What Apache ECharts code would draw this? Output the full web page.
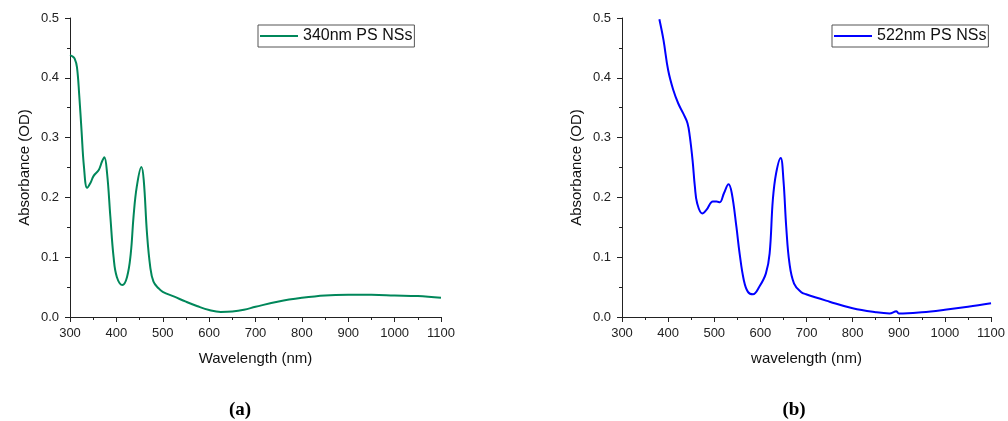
<!DOCTYPE html>
<html>
<head>
<meta charset="utf-8">
<script src="https://cdn.jsdelivr.net/npm/echarts@6/dist/echarts.min.js"></script>
<style>html,body{margin:0;padding:0;background:#fff}#c{width:1008px;height:421px}</style>
</head>
<body>
<div id="c"></div>
<script>
// Panel (a): 340nm PS NSs
const wlA = [300,305,310,315,320,325,330,337,344,351,362,369,374,380,387,394,401,413,423,431,437,444,454,459,466,473,480,491,500,525,550,575,600,625,650,675,700,750,800,850,900,950,1000,1050,1100];
const absA = [0.438,0.436,0.432,0.418,0.37,0.31,0.252,0.216,0.224,0.236,0.246,0.26,0.267,0.24,0.168,0.1,0.067,0.0535,0.067,0.106,0.168,0.218,0.251,0.229,0.14,0.084,0.059,0.048,0.042,0.034,0.0256,0.018,0.0117,0.0085,0.0092,0.012,0.017,0.026,0.032,0.036,0.037,0.037,0.036,0.035,0.032];
// Panel (b): 522nm PS NSs
const wlB = [381,390,400,411,422,433,442,447,453,458,463,474,483,497,505,512,521,531,538,548,555,564,573,584,598,612,620,627,634,644,650,656,663,673,688,699,750,800,850,880,895,900,950,1000,1050,1100];
const absB = [0.498,0.463,0.413,0.38,0.357,0.34,0.324,0.302,0.262,0.218,0.19,0.173,0.179,0.193,0.193,0.192,0.207,0.222,0.207,0.151,0.106,0.062,0.042,0.038,0.051,0.073,0.106,0.196,0.24,0.266,0.229,0.151,0.09,0.056,0.042,0.038,0.0256,0.0145,0.008,0.006,0.0095,0.006,0.008,0.012,0.017,0.023];
const seriesNames = ['340nm PS NSs','522nm PS NSs'];
const xNames = ['Wavelength (nm)','wavelength (nm)'];
const yName = 'Absorbance (OD)';
const captions = ['(a)','(b)'];

const FONT = 'Liberation Sans, Arial, sans-serif';
const axisColor = '#222';
function xAxis(i){
  return {type:'value',gridIndex:i,min:300,max:1100,interval:100,name:xNames[i],nameLocation:'middle',nameGap:34,
    nameTextStyle:{fontFamily:FONT,fontSize:15,color:'#111'},
    axisLine:{lineStyle:{color:axisColor,width:1}},axisTick:{length:5,lineStyle:{color:axisColor}},
    minorTick:{show:true,splitNumber:2,length:3,lineStyle:{color:axisColor}},
    axisLabel:{fontFamily:FONT,fontSize:13,color:'#222',margin:10,formatter:v=>String(v)},splitLine:{show:false}};
}
function yAxis(i){
  return {type:'value',gridIndex:i,min:0,max:0.5,interval:0.1,name:yName,nameLocation:'middle',nameGap:38,
    nameTextStyle:{fontFamily:FONT,fontSize:15,color:'#111'},
    axisLine:{show:true,lineStyle:{color:axisColor,width:1}},axisTick:{show:true,length:5,lineStyle:{color:axisColor}},
    minorTick:{show:true,splitNumber:2,length:3,lineStyle:{color:axisColor}},
    axisLabel:{fontFamily:FONT,fontSize:13,color:'#222',margin:11,formatter:v=>v.toFixed(1)},splitLine:{show:false}};
}
function legend(i,left,top){
  return {data:[seriesNames[i]],left:left,top:top,orient:'horizontal',borderColor:'#555',borderWidth:1,padding:[3,2,3,2],
    itemWidth:38,itemHeight:14,itemGap:5,textStyle:{fontFamily:FONT,fontSize:16,color:'#111'},icon:'path://M0,6 L38,6 L38,8 L0,8 Z'};
}
const chart = echarts.init(document.getElementById('c'),null,{renderer:'canvas'});
chart.setOption({
  animation:false,
  grid:[{left:70,right:567,top:18,bottom:104},{left:622,right:15,top:18,bottom:104}],
  xAxis:[xAxis(0),xAxis(1)],
  yAxis:[yAxis(0),yAxis(1)],
  legend:[legend(0,258,25),legend(1,832,25)],
  series:[
    {name:seriesNames[0],type:'line',xAxisIndex:0,yAxisIndex:0,data:wlA.map((x,k)=>[x,absA[k]]),smooth:0.4,symbol:'none',lineStyle:{color:'#00875A',width:2},itemStyle:{color:'#00875A'}},
    {name:seriesNames[1],type:'line',xAxisIndex:1,yAxisIndex:1,data:wlB.map((x,k)=>[x,absB[k]]),smooth:0.4,symbol:'none',lineStyle:{color:'#0000FF',width:2},itemStyle:{color:'#0000FF'}}
  ],
  graphic:[
    {type:'text',x:240,y:410,style:{text:captions[0],align:'center',verticalAlign:'middle',font:'bold 19px "Liberation Serif", "DejaVu Serif", serif',fill:'#000'}},
    {type:'text',x:794,y:410,style:{text:captions[1],align:'center',verticalAlign:'middle',font:'bold 19px "Liberation Serif", "DejaVu Serif", serif',fill:'#000'}}
  ]
});
</script>
</body>
</html>
